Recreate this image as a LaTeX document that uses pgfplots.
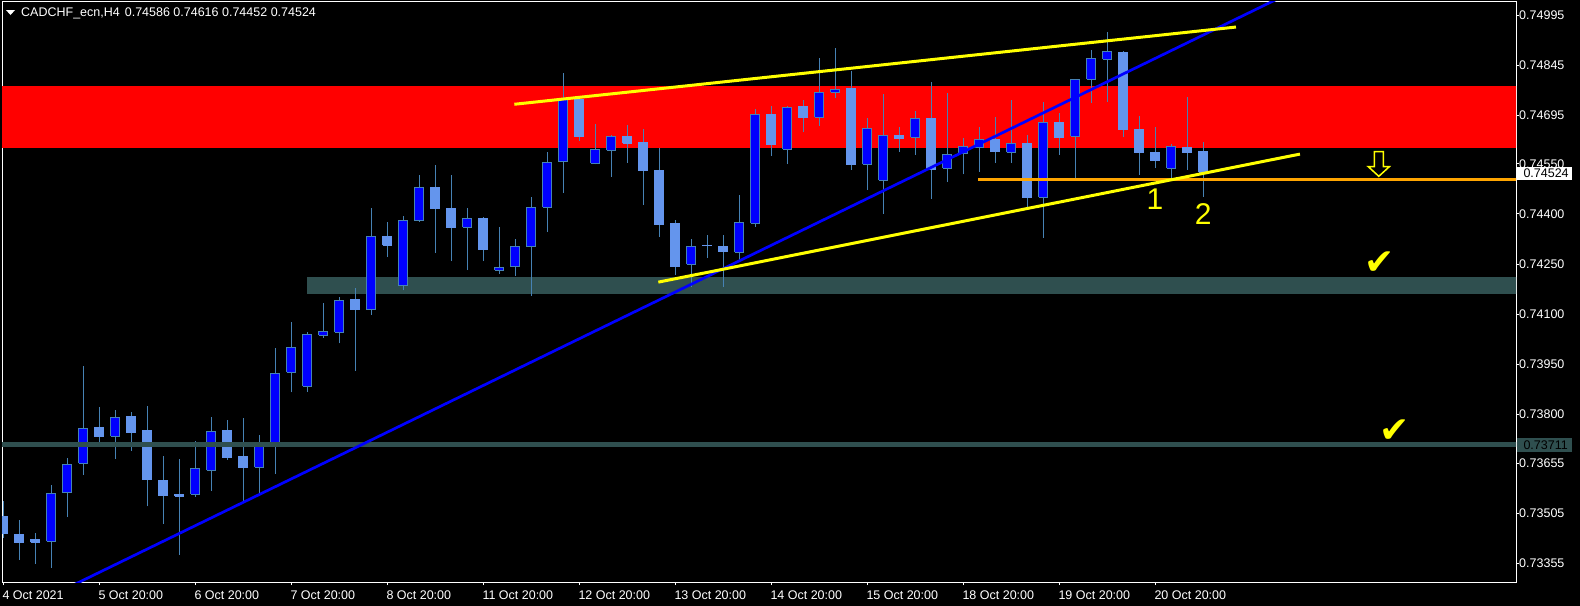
\documentclass[border=0pt]{standalone}
\usepackage{fontspec}
\setmainfont{Liberation Sans}
\newfontfamily\symfont{DejaVu Sans}
\usepackage{pgfplots}
\pgfplotsset{compat=1.18}
\usepackage{pgfplotstable}
\definecolor{slate}{RGB}{47,79,79}
\definecolor{wick}{RGB}{70,130,180}
\definecolor{bear}{RGB}{100,149,237}
\definecolor{bull}{RGB}{0,0,255}
\definecolor{mtorange}{RGB}{255,165,0}
\definecolor{mtyellow}{RGB}{255,255,0}

\pgfplotstableread{
k O H L C
0 0.73495 0.73541 0.73430 0.73445
1 0.73440 0.73485 0.73365 0.73417
2 0.73425 0.73447 0.73353 0.73418
3 0.73421 0.73589 0.73342 0.73565
4 0.73566 0.73670 0.73495 0.73651
5 0.73654 0.73945 0.73620 0.73759
6 0.73760 0.73823 0.73719 0.73734
7 0.73735 0.73814 0.73668 0.73792
8 0.73793 0.73808 0.73692 0.73746
9 0.73751 0.73826 0.73525 0.73605
10 0.73604 0.73676 0.73474 0.73557
11 0.73562 0.73667 0.73380 0.73556
12 0.73562 0.73721 0.73554 0.73639
13 0.73633 0.73793 0.73572 0.73750
14 0.73751 0.73784 0.73665 0.73671
15 0.73673 0.73790 0.73541 0.73641
16 0.73642 0.73739 0.73562 0.73704
17 0.73717 0.73998 0.73623 0.73924
18 0.73927 0.74077 0.73866 0.74001
19 0.73885 0.74047 0.73868 0.74040
20 0.74037 0.74133 0.74030 0.74049
21 0.74046 0.74151 0.74013 0.74142
22 0.74143 0.74178 0.73931 0.74114
23 0.74113 0.74419 0.74098 0.74334
24 0.74334 0.74377 0.74272 0.74307
25 0.74185 0.74394 0.74171 0.74379
26 0.74380 0.74517 0.74377 0.74480
27 0.74480 0.74546 0.74284 0.74415
28 0.74417 0.74517 0.74259 0.74358
29 0.74360 0.74417 0.74232 0.74387
30 0.74387 0.74390 0.74259 0.74293
31 0.74232 0.74360 0.74220 0.74241
32 0.74242 0.74325 0.74215 0.74302
33 0.74302 0.74451 0.74156 0.74420
34 0.74420 0.74584 0.74347 0.74555
35 0.74556 0.74821 0.74464 0.74741
36 0.74741 0.74744 0.74619 0.74631
37 0.74552 0.74669 0.74548 0.74593
38 0.74590 0.74636 0.74511 0.74632
39 0.74633 0.74666 0.74553 0.74612
40 0.74614 0.74654 0.74428 0.74529
41 0.74531 0.74598 0.74332 0.74368
42 0.74370 0.74382 0.74217 0.74242
43 0.74249 0.74325 0.74182 0.74302
44 0.74306 0.74337 0.74269 0.74305
45 0.74303 0.74337 0.74182 0.74287
46 0.74285 0.74457 0.74262 0.74375
47 0.74372 0.74714 0.74362 0.74696
48 0.74696 0.74723 0.74574 0.74607
49 0.74593 0.74722 0.74549 0.74719
50 0.74720 0.74741 0.74646 0.74688
51 0.74689 0.74866 0.74664 0.74764
52 0.74764 0.74896 0.74748 0.74771
53 0.74774 0.74828 0.74532 0.74547
54 0.74549 0.74687 0.74473 0.74656
55 0.74501 0.74759 0.74401 0.74635
56 0.74636 0.74660 0.74586 0.74625
57 0.74629 0.74708 0.74577 0.74686
58 0.74684 0.74795 0.74446 0.74534
59 0.74537 0.74762 0.74497 0.74579
60 0.74581 0.74627 0.74518 0.74602
61 0.74600 0.74660 0.74526 0.74623
62 0.74623 0.74690 0.74553 0.74586
63 0.74584 0.74741 0.74553 0.74610
64 0.74611 0.74636 0.74412 0.74449
65 0.74450 0.74735 0.74329 0.74673
66 0.74674 0.74702 0.74577 0.74628
67 0.74632 0.74804 0.74502 0.74803
68 0.74803 0.74890 0.74733 0.74866
69 0.74863 0.74944 0.74736 0.74887
70 0.74884 0.74887 0.74631 0.74652
71 0.74653 0.74693 0.74517 0.74583
72 0.74585 0.74660 0.74538 0.74559
73 0.74537 0.74608 0.74502 0.74601
74 0.74600 0.74750 0.74532 0.74583
75 0.74586 0.74616 0.74452 0.74524
}\candles

\newcommand\lbl{\fontsize{12.5bp}{15bp}\selectfont}

\begin{document}
\begin{tikzpicture}
\fill[black] (0,0) rectangle (1580bp,-606bp);
\begin{axis}[
  at={(2bp,-2bp)}, anchor=north west,
  scale only axis, width=1514bp, height=580bp,
  xmin=-0.08125, xmax=94.544, ymin=0.732991, ymax=0.750339,
  axis line style={white, line width=1bp},
  tick style={white, line width=1bp},
  tick align=outside, major tick length=3bp,
  xtick pos=lower, ytick pos=upper,
  xticklabel pos=lower, yticklabel pos=upper,
  xtick={0,6,12,18,24,30,36,42,48,54,60,66,72},
  xticklabels={4 Oct 2021,5 Oct 20:00,6 Oct 20:00,7 Oct 20:00,8 Oct 20:00,11 Oct 20:00,12 Oct 20:00,13 Oct 20:00,14 Oct 20:00,15 Oct 20:00,18 Oct 20:00,19 Oct 20:00,20 Oct 20:00},
  ytick={0.73355,0.73505,0.73655,0.73800,0.73950,0.74100,0.74250,0.74400,0.74550,0.74695,0.74845,0.74995},
  yticklabels={0.73355,0.73505,0.73655,0.73800,0.73950,0.74100,0.74250,0.74400,0.74550,0.74695,0.74845,0.74995},
  tick label style={font=\lbl, text=white, inner sep=0pt},
  xticklabel style={anchor=north west, xshift=-1bp, yshift=-6bp},
  yticklabel style={anchor=west},
  scaled y ticks=false, scaled x ticks=false,
  /pgf/number format/assume math mode=true,
]
% zones
\addplot[draw=none, fill=red] coordinates {(-2,0.74598) (100,0.74598) (100,0.74783) (-2,0.74783)};
\addplot[draw=none, fill=slate] coordinates {(18.98,0.74162) (100,0.74162) (100,0.74211) (18.98,0.74211)};
% candles
\pgfplotsforeachungrouped \i in {0,...,75}{%
  \pgfplotstablegetelem{\i}{O}\of\candles \let\cO\pgfplotsretval
  \pgfplotstablegetelem{\i}{H}\of\candles \let\cH\pgfplotsretval
  \pgfplotstablegetelem{\i}{L}\of\candles \let\cL\pgfplotsretval
  \pgfplotstablegetelem{\i}{C}\of\candles \let\cC\pgfplotsretval
  \ifdim\cC pt>\cO pt
    \let\clo\cO \let\chigh\cC \def\cfill{bull}\def\cdraw{wick}%
  \else
    \let\clo\cC \let\chigh\cO \def\cfill{bear}\def\cdraw{bear}%
  \fi
  \pgfmathsetmacro\xl{\i-0.28125}%
  \pgfmathsetmacro\xr{\i+0.28125}%
  \edef\doplot{\noexpand\addplot[wick, line width=1bp] coordinates {(\i,\cL) (\i,\cH)};%
    \noexpand\addplot[draw=\cdraw, fill=\cfill, line width=1bp] coordinates {(\xl,\clo) (\xr,\clo) (\xr,\chigh) (\xl,\chigh) (\xl,\clo)};}%
  \doplot
}
% lines
\addplot[slate, line width=4.5bp] coordinates {(-2,0.73710) (100,0.73710)};
\addplot[mtorange, line width=2.7bp] coordinates {(60.92,0.74502) (100,0.74502)};
\addplot[bull, line width=2.7bp] coordinates {(3,0.73258) (81,0.75075)};
\addplot[mtyellow, line width=3bp] coordinates {(31.94,0.74728) (77.04,0.74959)};
\addplot[mtyellow, line width=3bp] coordinates {(40.94,0.74196) (81.04,0.74579)};
\end{axis}
% title
\fill[white] (6bp,-10bp) -- (15bp,-10bp) -- (10.5bp,-15bp) -- cycle;
\node[anchor=base west, inner sep=0pt, text=white, font=\lbl] at (21bp,-16.7bp) {CADCHF\_ecn,H4\hspace{5bp}0.74586 0.74616 0.74452 0.74524};
% annotations
\node[text=mtyellow, font=\fontsize{30bp}{32bp}\selectfont, inner sep=0pt] at (1155bp,-199bp) {1};
\node[text=mtyellow, font=\fontsize{30bp}{32bp}\selectfont, inner sep=0pt] at (1203.3bp,-214bp) {2};
\draw[mtyellow, line width=1.5bp, line join=miter] (1374.3bp,-151.7bp) -- (1383.3bp,-151.7bp) -- (1383.3bp,-166.7bp) -- (1389.3bp,-166.7bp) -- (1378.8bp,-176.3bp) -- (1368.3bp,-166.7bp) -- (1374.3bp,-166.7bp) -- cycle;
\node[text=mtyellow, font=\symfont\fontsize{36bp}{38bp}\selectfont, inner sep=0pt] at (1379.5bp,-263.3bp) {✔};
\node[text=mtyellow, font=\symfont\fontsize{36bp}{38bp}\selectfont, inner sep=0pt] at (1395bp,-430.7bp) {✔};
% price labels
\fill[white] (1516.5bp,-167bp) rectangle (1572bp,-180bp);
\node[anchor=west, inner sep=0pt, text=black, font=\lbl] at (1523.3bp,-173.5bp) {0.74524};
\fill[slate] (1516.5bp,-438.3bp) rectangle (1572bp,-451.7bp);
\node[anchor=west, inner sep=0pt, text=black, font=\lbl] at (1523.3bp,-445bp) {0.73711};
\pgfresetboundingbox
\path[use as bounding box] (0,0) rectangle (1580bp,-606bp);
\end{tikzpicture}
\end{document}
